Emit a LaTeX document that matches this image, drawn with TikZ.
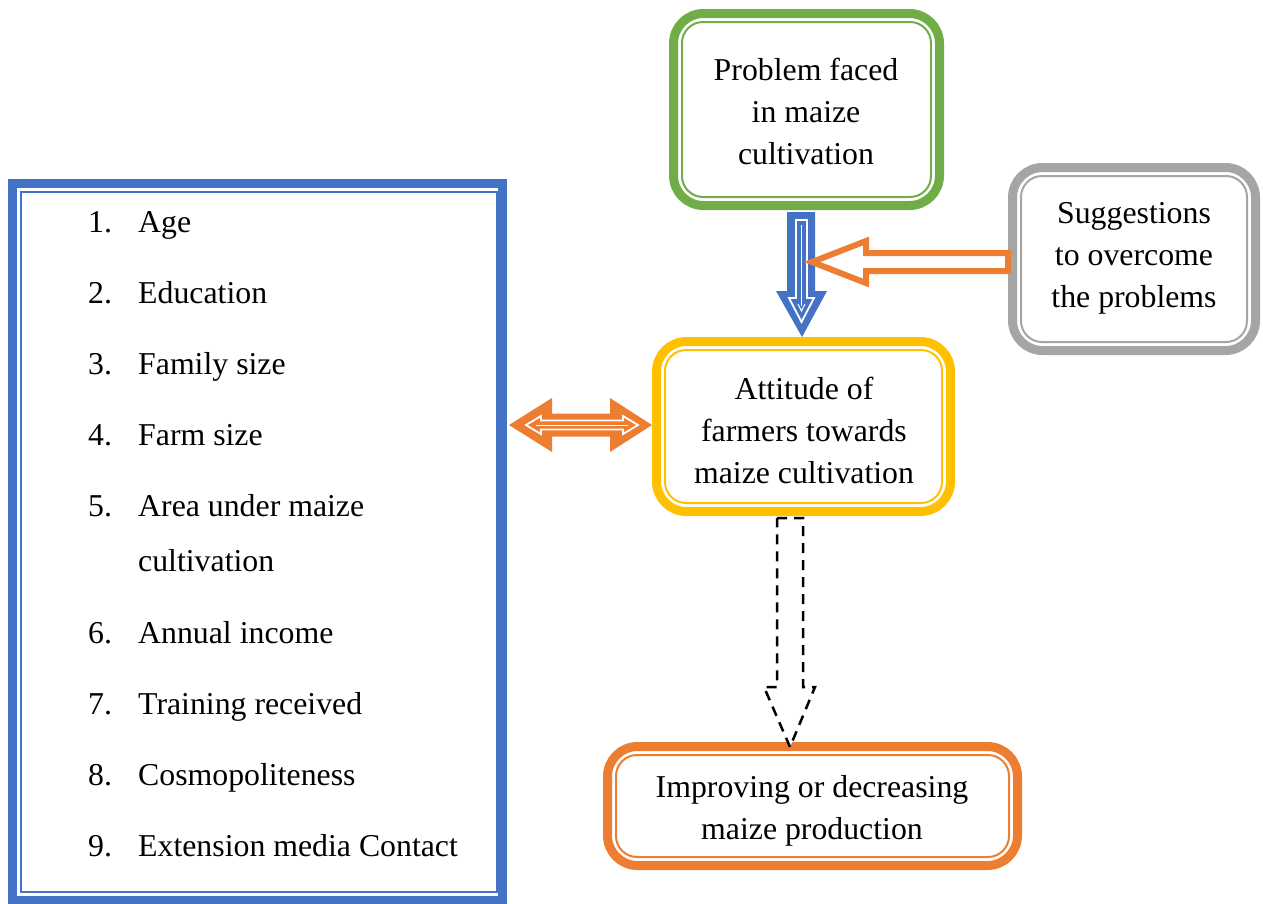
\documentclass[tikz,border=0pt]{standalone}
\usepackage{fontspec}
\setmainfont{Liberation Serif}
\definecolor{cgreen}{HTML}{70AD47}
\definecolor{cblue}{HTML}{4472C4}
\definecolor{corange}{HTML}{ED7D31}
\definecolor{cyellow}{HTML}{FFC000}
\definecolor{cgray}{HTML}{A5A5A5}
\tikzset{
  outerbox/.style={draw=#1, line width=9pt, rounded corners=30pt, fill=white, inner sep=0pt, outer sep=0pt},
  innerline/.style={draw=#1, line width=2pt, rounded corners=21pt},
  txt/.style={font=\fontsize{31.8}{42}\selectfont, align=center, inner sep=0pt},
  item/.style={font=\fontsize{31.8}{42}\selectfont, anchor=base west, inner sep=0pt},
}
\newcommand\dblbox[6]{%
  \node[outerbox=#6, minimum width=#4pt, minimum height=#5pt] (#1) at (#2,#3) {};
  \draw[innerline=#6] ([xshift=8.5pt,yshift=-8.5pt]#1.north west) rectangle ([xshift=-8.5pt,yshift=8.5pt]#1.south east);
}
\begin{document}
\begin{tikzpicture}[x=1pt,y=-1pt]
\useasboundingbox (0,0) rectangle (1263,903);
\fill[white] (0,0) rectangle (1263,903);

% boxes
\dblbox{prob}{806.5}{109.5}{266}{192}{cgreen}
\dblbox{sugg}{1134}{259}{243}{183}{cgray}
\dblbox{att}{803.5}{426.5}{294}{170}{cyellow}
\dblbox{impr}{812.5}{806}{410}{119}{corange}

% list box (sharp corners, bottom edge cut by the page)
\begin{scope}
\clip (0,0) rectangle (1263,903);
\node[draw=cblue, line width=9pt, inner sep=0pt, outer sep=0pt, minimum width=490pt, minimum height=717pt] (list) at (257.5,542) {};
\draw[cblue, line width=2pt] ([xshift=8.5pt,yshift=-8.5pt]list.north west) rectangle ([xshift=-6pt,yshift=8.5pt]list.south east);
\end{scope}

% texts
\node[txt] (probt) at (806,111) {Problem faced\\in maize\\cultivation};
\node[txt] (suggt) at (1134,258) {Suggestions\\to overcome\\the problems};
\node[txt] (attt) at (804,430) {Attitude of\\farmers towards\\maize cultivation};
\node[txt] (imprt) at (812,811) {Improving or decreasing\\maize production};

% list items
\node[item] (n1) at (88,232) {1.}; \node[item] (t1) at (138,232) {Age};
\node[item] (n2) at (88,303) {2.}; \node[item] (t2) at (138,303) {Education};
\node[item] (n3) at (88,374) {3.}; \node[item] (t3) at (138,374) {Family size};
\node[item] (n4) at (88,445) {4.}; \node[item] (t4) at (138,445) {Farm size};
\node[item] (n5) at (88,516) {5.}; \node[item] (t5) at (138,516) {Area under maize};
\node[item] (t5b) at (138,571) {cultivation};
\node[item] (n6) at (88,643) {6.}; \node[item] (t6) at (138,643) {Annual income};
\node[item] (n7) at (88,714) {7.}; \node[item] (t7) at (138,714) {Training received};
\node[item] (n8) at (88,785) {8.}; \node[item] (t8) at (138,785) {Cosmopoliteness};
\node[item] (n9) at (88,856) {9.}; \node[item] (t9) at (138,856) {Extension media Contact};

% blue block arrow (prob -> att)
\fill[cblue] (787,212) -- (815,212) -- (815,291) -- (827,291) -- (802,337) -- (776,291) -- (787,291) -- cycle;
\draw[white, line width=1.8pt, line join=miter] (796,220) -- (807,220) -- (807,298) -- (814,298) -- (801.5,322) -- (789,298) -- (796,298) -- cycle;
\draw[white, line width=1pt] (801.5,225) -- (801.5,306);
\draw[white, line width=1pt] (798,304) -- (801.5,311) -- (805,304);

% orange outline arrow (sugg -> blue arrow)
\draw[corange, line width=6pt, fill=white, line join=miter] (1008,253) -- (866,253) -- (866,241) -- (812,262) -- (866,283) -- (866,271) -- (1008,271) -- cycle;

% orange double arrow (list <-> att)
\fill[corange] (509,425) -- (552,398) -- (552,413.5) -- (610,413.5) -- (610,398) -- (652,425) -- (610,452) -- (610,436.5) -- (552,436.5) -- (552,452) -- cycle;
\draw[white, line width=1.8pt, line join=miter] (526,425) -- (541,416) -- (541,420.5) -- (623,420.5) -- (623,416) -- (638,425) -- (623,434) -- (623,429.5) -- (541,429.5) -- (541,434) -- cycle;
\draw[white, line width=0.8pt] (536,425) -- (628,425);

% dashed outline arrow (att -> impr)
\draw[black, line width=2.5pt, dash pattern=on 10pt off 7pt, fill=white] (777,518) -- (803,518) -- (803,687) -- (815,687) -- (790,747) -- (764,687) -- (777,687) -- cycle;
\end{tikzpicture}
\end{document}
